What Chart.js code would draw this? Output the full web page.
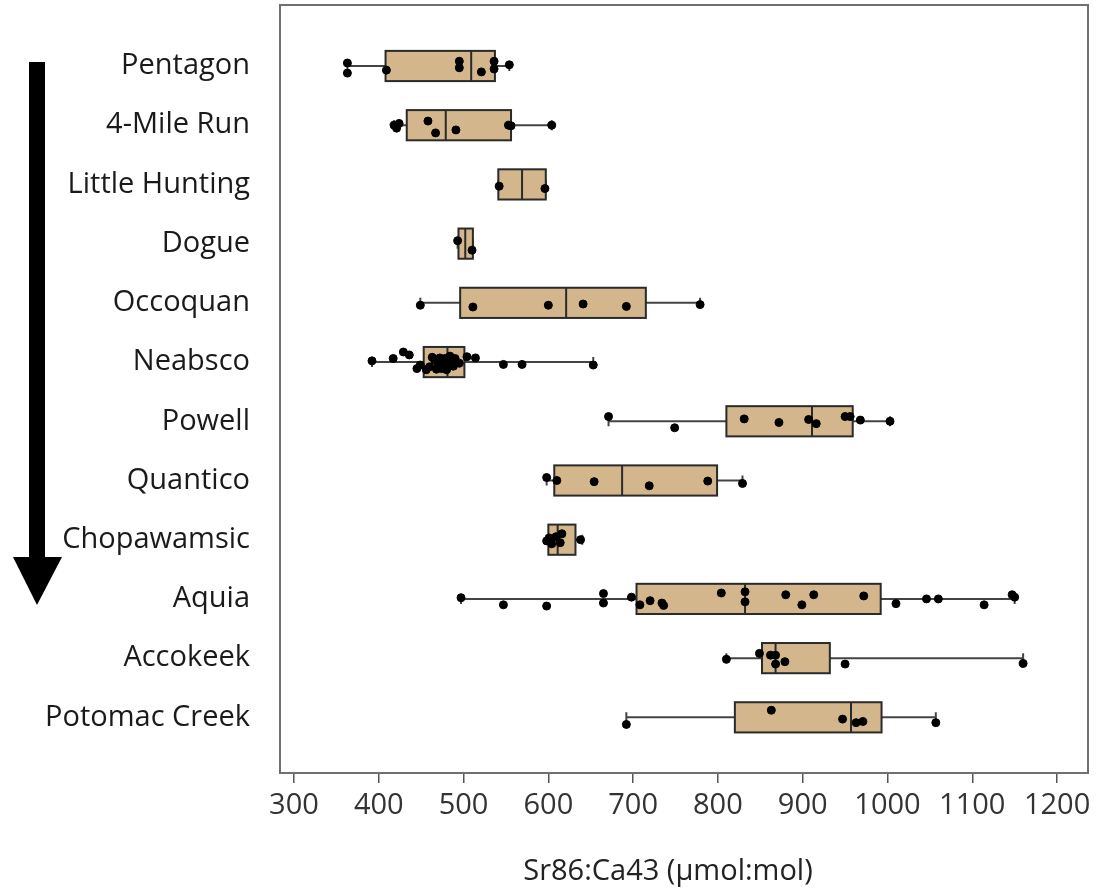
<!DOCTYPE html>
<html>
<head>
<meta charset="utf-8">
<script src="https://cdn.jsdelivr.net/npm/chart.js@4.4.1/dist/chart.umd.min.js"></script>
<style>
  html, body { margin: 0; padding: 0; background: #fff; }
  #wrap { width: 1100px; height: 892px; }
</style>
</head>
<body>
<div id="wrap"><canvas id="chart"></canvas></div>
<script>
const categories = ["Pentagon", "4-Mile Run", "Little Hunting", "Dogue", "Occoquan", "Neabsco",
    "Powell", "Quantico", "Chopawamsic", "Aquia", "Accokeek", "Potomac Creek"];

// box statistics
const whiskerLow  = [363, 418, 541, 493, 449, 392, 671, 598, 598, 497, 810, 692];
const q1          = [408, 433, 541, 494, 496, 453, 810, 607, 600, 704, 852, 820];
const medians     = [509, 479, 569, 502, 621, 481, 911, 687, 611, 832, 868, 957];
const q3          = [537, 556, 597, 511, 715, 501, 959, 799, 632, 992, 932, 993];
const whiskerHigh = [554, 604, 597, 511, 779, 653, 1003, 829, 640, 1150, 1160, 1057];

// individual samples per site
const pointValues = [
    [363, 363, 409, 495, 495, 521, 536, 536, 554],
    [418, 421, 424, 458, 467, 491, 553, 556, 604],
    [542, 596],
    [493, 510],
    [449, 511, 600, 641, 692, 779],
    [392, 417, 429, 436, 445, 449, 456, 460, 463, 466, 468, 470, 472, 474, 476, 478, 480, 482,
     484, 486, 488, 490, 495, 504, 514, 547, 569, 653],
    [671, 749, 831, 872, 907, 916, 950, 956, 968, 1003],
    [598, 610, 654, 719, 788, 829],
    [598, 601, 604, 609, 614, 616, 638],
    [497, 547, 598, 665, 665, 698, 708, 720, 734, 736, 804, 832, 832, 880, 899, 913, 972,
     1010, 1046, 1060, 1114, 1147, 1150],
    [810, 849, 862, 868, 868, 879, 950, 1160],
    [692, 863, 947, 963, 971, 1057]
];

// vertical jitter of each sample, in rows
const pointJitter = [
    [-0.05, 0.12, 0.07, -0.08, 0.03, 0.10, -0.08, 0.05, -0.02],
    [0.0, 0.05, -0.03, -0.07, 0.13, 0.08, 0.0, 0.01, 0.0],
    [0.03, 0.07],
    [-0.05, 0.11],
    [0.04, 0.07, 0.04, 0.02, 0.06, 0.03],
    [-0.02, -0.06, -0.17, -0.12, 0.11, 0.05, 0.13, 0.08, -0.08, -0.03, 0.12, 0.02, -0.07, 0.11,
     0.03, -0.06, 0.13, 0.05, -0.10, 0.0, 0.07, -0.06, 0.02, -0.09, -0.07, 0.04, 0.04, 0.05],
    [-0.08, 0.11, -0.04, 0.02, -0.03, 0.04, -0.08, -0.08, -0.02, 0.0],
    [-0.05, 0.0, 0.02, 0.09, 0.01, 0.05],
    [0.02, -0.03, 0.07, -0.05, 0.05, -0.10, 0.0],
    [-0.02, 0.10, 0.12, -0.09, 0.07, -0.03, 0.10, 0.03, 0.07, 0.11, -0.10, -0.12, 0.05, -0.07,
     0.10, -0.07, -0.05, 0.08, 0.0, 0.0, 0.10, -0.07, -0.03],
    [0.02, -0.08, -0.05, -0.05, 0.10, 0.06, 0.10, 0.09],
    [0.12, -0.12, 0.03, 0.09, 0.07, 0.09]
];

const xTicks = [300, 400, 500, 600, 700, 800, 900, 1000, 1100, 1200];
const xTitle = "Sr86:Ca43 (µmol:mol)";

const points = [];
pointValues.forEach((vals, i) => {
    vals.forEach((v, j) => points.push({ x: v, y: i + pointJitter[i][j] }));
});

const boxPlot = {
    id: "boxPlot",
    beforeDatasetsDraw(chart) {
        const { ctx, chartArea, scales: { x, y } } = chart;
        ctx.save();
        // frame
        ctx.strokeStyle = "#707070";
        ctx.lineWidth = 2;
        ctx.strokeRect(chartArea.left, chartArea.top, chartArea.right - chartArea.left, chartArea.bottom - chartArea.top);

        categories.forEach((name, i) => {
            const yc = y.getPixelForValue(i);
            const yt = y.getPixelForValue(i - 0.255);
            const yb = y.getPixelForValue(i + 0.255);
            const xl = x.getPixelForValue(whiskerLow[i]);
            const x1 = x.getPixelForValue(q1[i]);
            const xm = x.getPixelForValue(medians[i]);
            const x3 = x.getPixelForValue(q3[i]);
            const xh = x.getPixelForValue(whiskerHigh[i]);

            // whiskers
            ctx.strokeStyle = "#444";
            ctx.lineWidth = 2;
            ctx.beginPath();
            ctx.moveTo(xl, yc); ctx.lineTo(x1, yc);
            ctx.moveTo(x3, yc); ctx.lineTo(xh, yc);
            ctx.moveTo(xl, yc - 5); ctx.lineTo(xl, yc + 5);
            ctx.moveTo(xh, yc - 5); ctx.lineTo(xh, yc + 5);
            ctx.stroke();

            // box
            ctx.fillStyle = "#D4B68C";
            ctx.fillRect(x1, yt, x3 - x1, yb - yt);
            ctx.strokeStyle = "#2a2a2a";
            ctx.lineWidth = 2;
            ctx.strokeRect(x1, yt, x3 - x1, yb - yt);

            // median
            ctx.beginPath();
            ctx.moveTo(xm, yt); ctx.lineTo(xm, yb);
            ctx.stroke();
        });
        ctx.restore();
    }
};

// arrow on the left and the x axis title (placed a bit left of the plot centre, as in the source)
const decorations = {
    id: "decorations",
    afterDraw(chart) {
        const ctx = chart.ctx;
        ctx.save();
        ctx.fillStyle = "#000";
        ctx.fillRect(29, 62, 16, 496);
        ctx.beginPath();
        ctx.moveTo(13, 557);
        ctx.lineTo(62, 557);
        ctx.lineTo(37, 605);
        ctx.closePath();
        ctx.fill();

        ctx.fillStyle = "#222";
        ctx.font = "29px 'Open Sans'";
        ctx.textAlign = "center";
        ctx.textBaseline = "middle";
        ctx.fillText(xTitle, 668, 872);
        ctx.restore();
    }
};

new Chart(document.getElementById("chart"), {
    type: "scatter",
    data: {
        datasets: [{
            data: points,
            backgroundColor: "#000",
            borderColor: "#000",
            pointRadius: 4,
            pointHoverRadius: 4,
        }],
    },
    options: {
        responsive: true,
        maintainAspectRatio: false,
        animation: false,
        layout: { padding: { top: 5, right: 12, left: 0, bottom: 0 } },
        plugins: {
            legend: { display: false },
            tooltip: { enabled: false },
        },
        scales: {
            x: {
                type: "linear",
                min: 283.5,
                max: 1236.5,
                afterBuildTicks: (axis) => { axis.ticks = xTicks.map((v) => ({ value: v })); },
                afterFit: (axis) => { axis.height = 119; axis.paddingLeft = 0; axis.paddingRight = 0; },
                grid: { drawOnChartArea: false, drawTicks: true, tickLength: 10, color: "#555", lineWidth: 1.5 },
                border: { display: false },
                ticks: {
                    padding: 5,
                    color: "#333",
                    font: { family: "Open Sans", size: 29 },
                    maxRotation: 0,
                    autoSkip: false,
                    callback: (value) => String(value),
                },
                title: { display: false },
            },
            y: {
                type: "linear",
                reverse: true,
                min: -1.03,
                max: 11.94,
                afterBuildTicks: (axis) => { axis.ticks = categories.map((_, i) => ({ value: i })); },
                afterFit: (axis) => { axis.width = 280; axis.paddingTop = 0; axis.paddingBottom = 0; },
                grid: { display: false, drawTicks: false },
                border: { display: false },
                ticks: {
                    padding: 30,
                    color: "#1a1a1a",
                    font: { family: "Open Sans", size: 29 },
                    callback: (value) => categories[value],
                },
            },
        },
    },
    plugins: [boxPlot, decorations],
});
</script>
</body>
</html>
